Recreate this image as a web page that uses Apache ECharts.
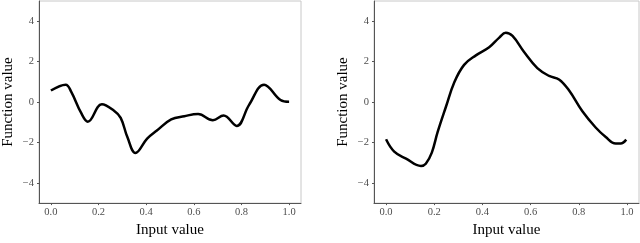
<!DOCTYPE html>
<html>
<head>
<meta charset="utf-8">
<script src="https://cdn.jsdelivr.net/npm/echarts@6/dist/echarts.min.js"></script>
<style>html,body{margin:0;padding:0;background:#fff;}#c{width:640px;height:243px;}</style>
</head>
<body>
<div id="c"></div>
<script>
const leftX = [0, 0.062, 0.086, 0.127, 0.155, 0.214, 0.265, 0.293, 0.321, 0.355, 0.404, 0.445, 0.505, 0.56, 0.618, 0.68, 0.725, 0.78, 0.832, 0.895, 0.964, 1.0];
const leftY = [0.57, 0.86, 0.49, -0.54, -0.97, -0.11, -0.43, -0.78, -1.73, -2.52, -1.81, -1.41, -0.86, -0.7, -0.59, -0.9, -0.67, -1.18, -0.14, 0.86, 0.1, 0.01];
const rightX = [0, 0.034, 0.083, 0.145, 0.165, 0.19, 0.214, 0.249, 0.283, 0.324, 0.373, 0.428, 0.47, 0.497, 0.525, 0.573, 0.628, 0.677, 0.718, 0.76, 0.815, 0.87, 0.912, 0.953, 0.974, 0.997];
const rightY = [-1.84, -2.45, -2.8, -3.16, -3.05, -2.5, -1.49, -0.22, 0.97, 1.84, 2.31, 2.71, 3.19, 3.43, 3.27, 2.48, 1.68, 1.29, 1.12, 0.57, -0.46, -1.26, -1.73, -2.05, -2.05, -1.86];
const xTicks = [0, 0.2, 0.4, 0.6, 0.8, 1.0];
const yTicks = [-4, -2, 0, 2, 4];
const xTitle = 'Input value';
const yTitle = 'Function value';

const font = 'Liberation Serif';
function pts(xs, ys){ return xs.map((x,i)=>[x, ys[i]]); }
function xAxis(gi){
  return {
    type:'value', gridIndex:gi, min:-0.05, max:1.05,
    name:xTitle, nameLocation:'middle', nameGap:18,
    nameTextStyle:{fontFamily:font, fontSize:15, color:'#000'},
    axisLine:{show:true, onZero:false, lineStyle:{color:'#555', width:1}},
    axisTick:{show:true, length:2, customValues:xTicks, lineStyle:{color:'#555'}},
    axisLabel:{customValues:xTicks, fontFamily:font, fontSize:10.5, color:'#4d4d4d', margin:4,
      formatter:v=>v.toFixed(1)},
    splitLine:{show:false}
  };
}
function yAxis(gi){
  return {
    type:'value', gridIndex:gi, min:-5, max:5,
    name:yTitle, nameLocation:'middle', nameGap:23, nameRotate:90,
    nameTextStyle:{fontFamily:font, fontSize:15, color:'#000'},
    axisLine:{show:true, onZero:false, lineStyle:{color:'#555', width:1}},
    axisTick:{show:true, length:2, customValues:yTicks, lineStyle:{color:'#555'}},
    axisLabel:{customValues:yTicks, fontFamily:font, fontSize:10.5, color:'#4d4d4d', margin:5,
      formatter:v=>(v<0?'\u2212'+Math.abs(v):String(v))},
    splitLine:{show:false}
  };
}
const chart = echarts.init(document.getElementById('c'));
chart.setOption({
  animation:false,
  backgroundColor:'#fff',
  grid:[
    {left:36, width:265, top:1, height:210, show:true, borderColor:'#c8c8c8', borderWidth:1, backgroundColor:'transparent'},
    {left:374, width:265, top:1, height:210, show:true, borderColor:'#c8c8c8', borderWidth:1, backgroundColor:'transparent'}
  ],
  xAxis:[xAxis(0), xAxis(1)],
  yAxis:[yAxis(0), yAxis(1)],
  series:[
    {type:'line', xAxisIndex:0, yAxisIndex:0, data:pts(leftX,leftY), smooth:0.4, showSymbol:false,
      lineStyle:{color:'#000', width:2.5}},
    {type:'line', xAxisIndex:1, yAxisIndex:1, data:pts(rightX,rightY), smooth:0.4, showSymbol:false,
      lineStyle:{color:'#000', width:2.5}}
  ]
});
</script>
</body>
</html>
